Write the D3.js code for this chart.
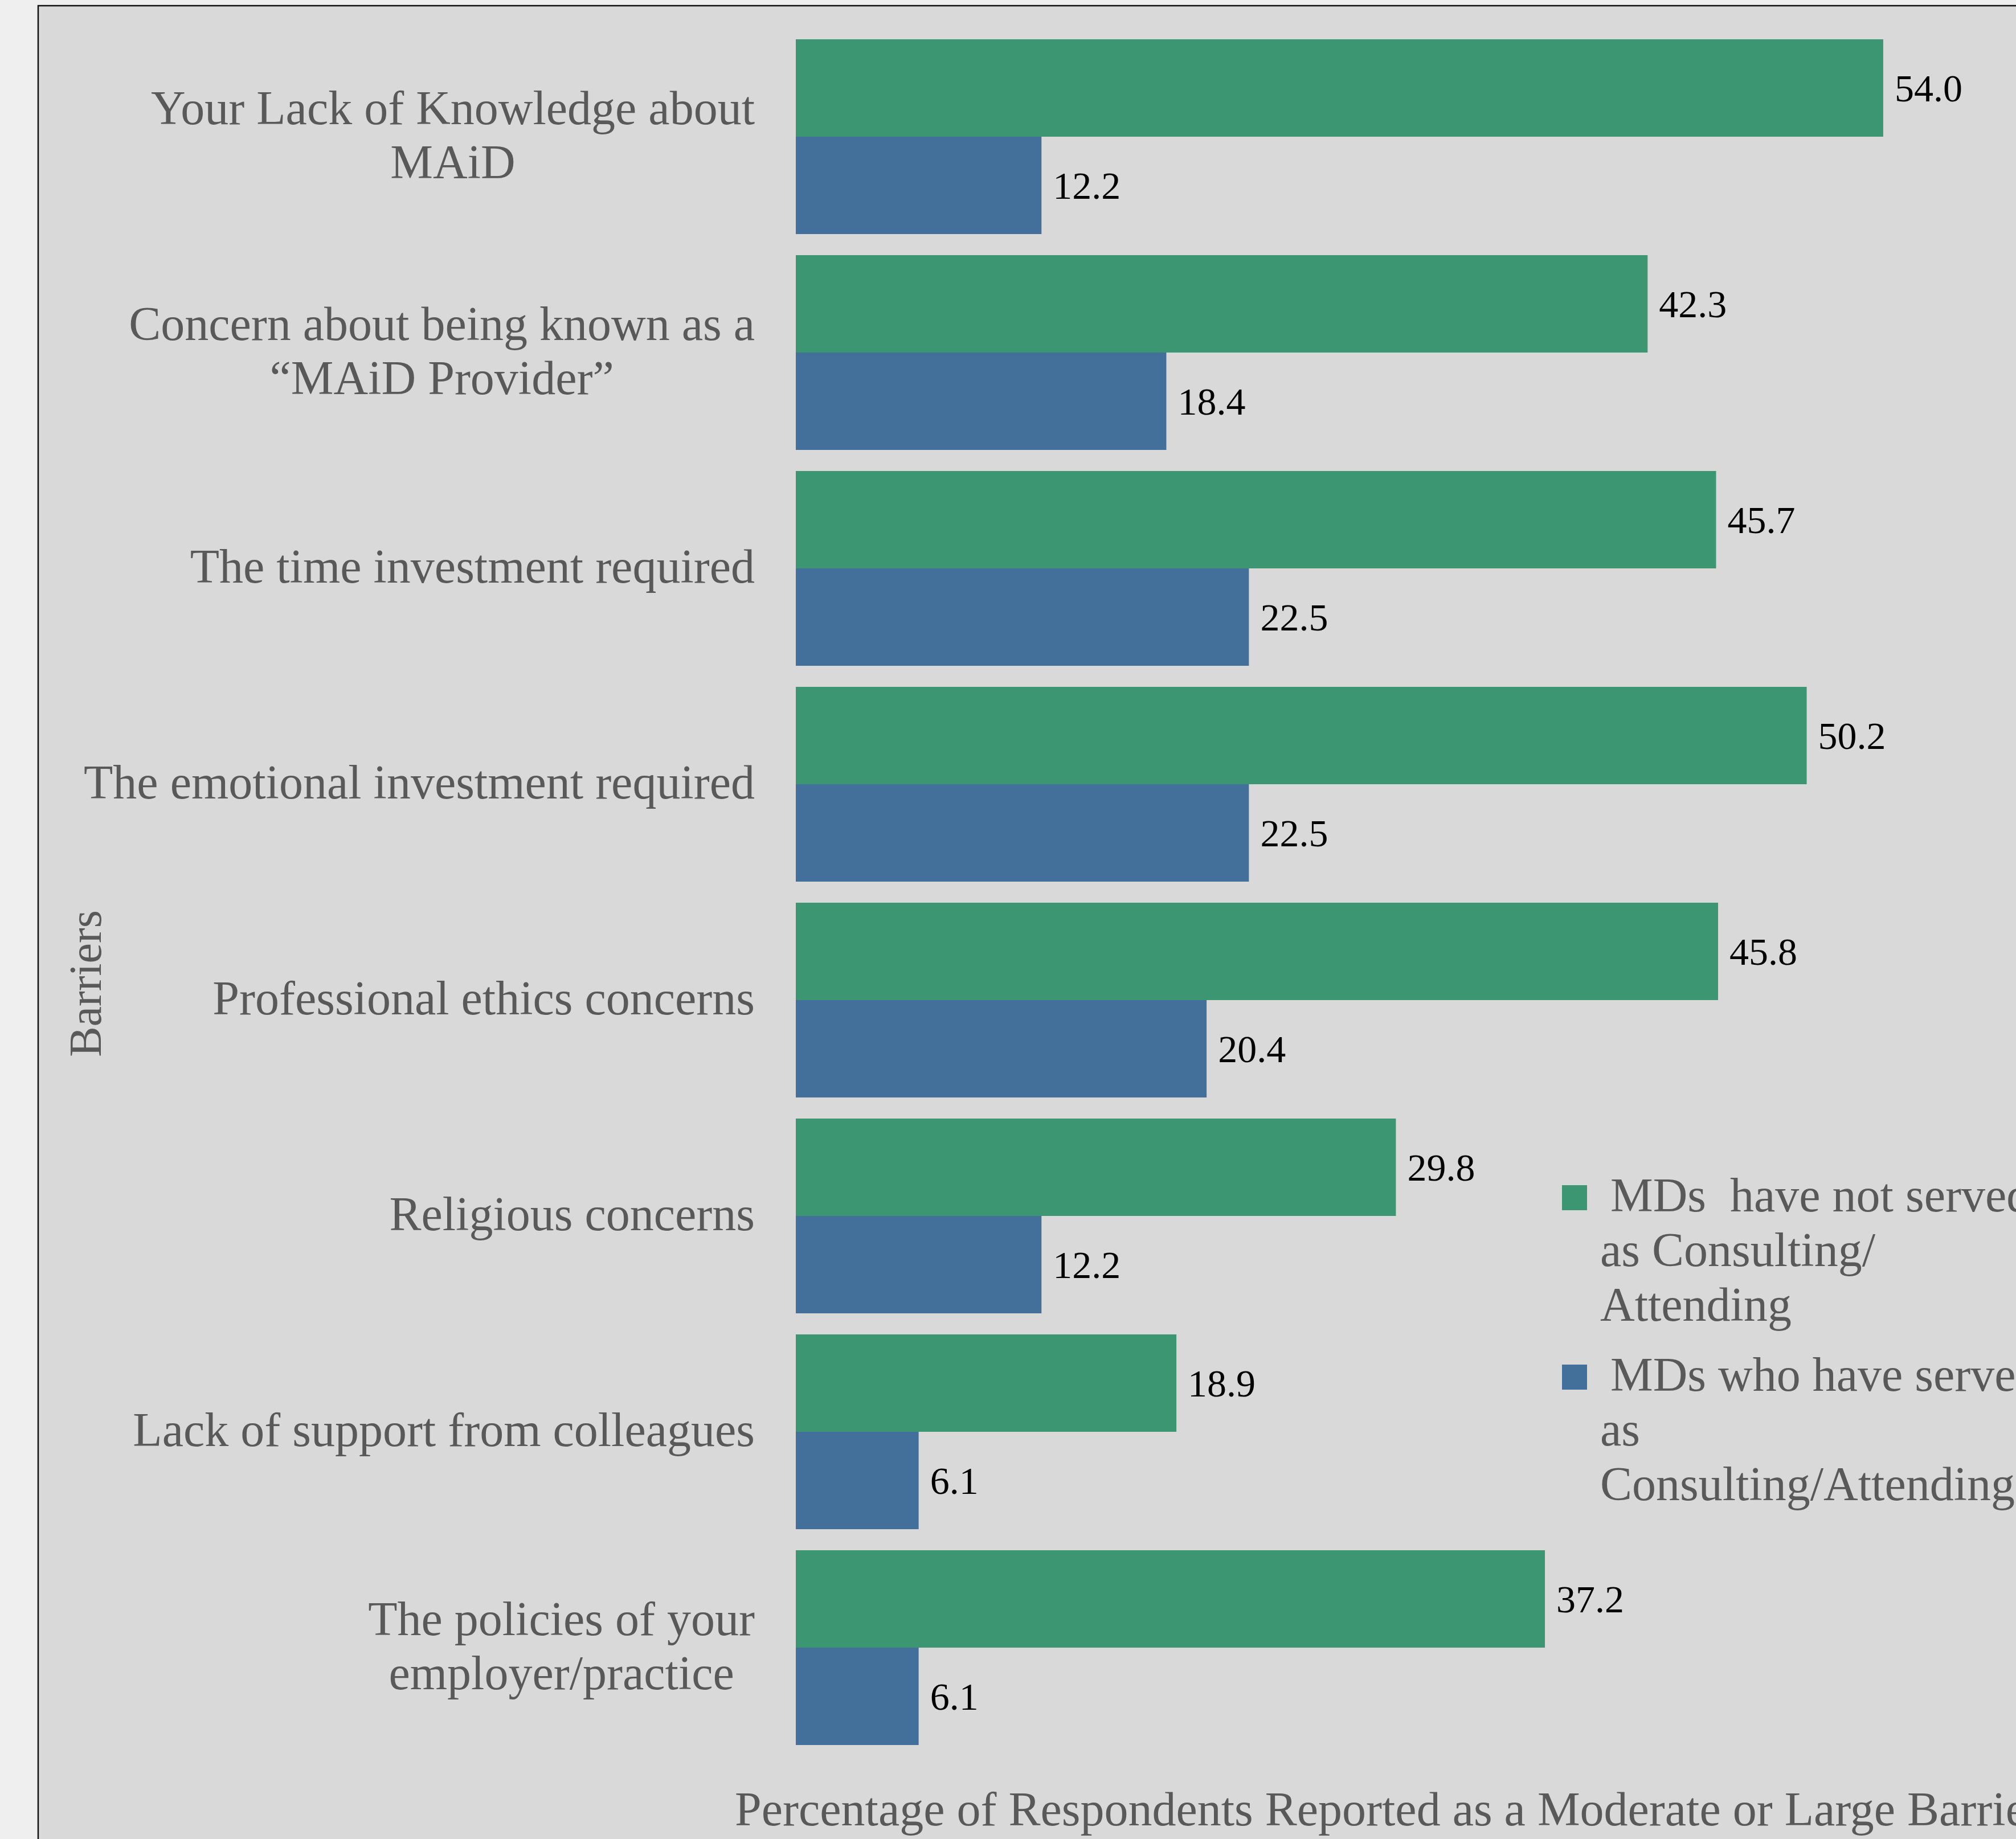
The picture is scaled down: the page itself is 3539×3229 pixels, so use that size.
<!DOCTYPE html>
<html>
<head>
<meta charset="utf-8">
<script src="https://cdn.jsdelivr.net/npm/d3@7"></script>
<style>
  body { margin: 0; background: #efefef; overflow: hidden; }
  text { font-family: "Liberation Serif", "DejaVu Serif", serif; white-space: pre; }
</style>
</head>
<body>
<div id="chart"></div>
<script>
// categories, top to bottom ("\n" marks the line breaks in the picture)
var categories = ["Your Lack of Knowledge about\nMAiD", "Concern about being known as a\n\u201cMAiD Provider\u201d",
    "The time investment required", "The emotional investment required", "Professional ethics concerns",
    "Religious concerns", "Lack of support from colleagues", "The policies of your\nemployer/practice"];
var notServed = [54.0, 42.3, 45.7, 50.2, 45.8, 29.8, 18.9, 37.2];
var haveServed = [12.2, 18.4, 22.5, 22.5, 20.4, 12.2, 6.1, 6.1];
var seriesNames = [["MDs  have not served", "as Consulting/", "Attending"],
                   ["MDs who have served", "as", "Consulting/Attending"]];
var xTitle = "Percentage of Respondents Reported as a Moderate or Large Barrier";
var yTitle = "Barriers";

function main() {
    var width = 3539, height = 3229;
    var colors = ["#3c9672", "#436f9b"];
    var grey = "#595959";

    var svg = d3.select("#chart").append("svg")
                .attr("width", width).attr("height", height);

    // plot area
    svg.append("rect").attr("x", 67).attr("y", 10)
        .attr("width", width).attr("height", height)
        .attr("fill", "#d9d9d9").attr("stroke", "#111").attr("stroke-width", 2.5);

    var x = d3.scaleLinear().domain([0, 60]).range([1397, 1397 + 60 * 35.35]);
    var y = d3.scaleBand().domain(d3.range(categories.length))
                .range([69, 3064]).paddingInner(37 / 379).paddingOuter(0);
    var y1 = d3.scaleBand().domain([0, 1]).range([0, y.bandwidth()]);

    var rows = categories.map(function(c, i) {
        return {cat: c, vals: [notServed[i], haveServed[i]], i: i};
    });

    var groups = svg.append("g").selectAll(".grp").data(rows).enter().append("g")
                    .attr("transform", function(d) { return "translate(0," + y(d.i) + ")"; });

    var bars = groups.selectAll(".bar").data(function(d) {
        return d.vals.map(function(v, k) { return {v: v, k: k}; });
    }).enter();
    bars.append("rect")
        .attr("x", x(0)).attr("y", function(d) { return y1(d.k); })
        .attr("width", function(d) { return x(d.v) - x(0); })
        .attr("height", y1.bandwidth())
        .attr("fill", function(d) { return colors[d.k]; });
    bars.append("text")
        .attr("x", function(d) { return x(d.v) + 20; })
        .attr("y", function(d) { return y1(d.k) + y1.bandwidth() / 2; })
        .attr("dy", "0.35em")
        .attr("font-size", 68).attr("fill", "#000")
        .text(function(d) { return d.v.toFixed(1); });

    // category axis, labels redrawn as centred multi-line blocks
    var yAxis = d3.axisLeft(d3.scaleBand().domain(categories).range(y.range())
                    .paddingInner(y.paddingInner()).paddingOuter(0))
                .tickSize(0).tickFormat("");
    var axisG = svg.append("g").attr("transform", "translate(1325,0)").call(yAxis);
    axisG.select(".domain").remove();

    var lh = 95, fs = 84;
    rows.forEach(function(d) {
        var lines = d.cat.split("\n");
        var cy = y(d.i) + y.bandwidth() / 2;
        var t = axisG.append("text").attr("font-size", fs).attr("fill", grey);
        var spans = lines.map(function(l, j) {
            return t.append("tspan").attr("y", cy - (lines.length - 1) * lh / 2 + j * lh + 0.3 * fs).text(l);
        });
        var maxW = d3.max(spans, function(s) { return s.node().getComputedTextLength(); });
        spans.forEach(function(s) {
            s.attr("x", -maxW / 2).attr("text-anchor", "middle");
        });
    });

    // axis titles
    svg.append("text").attr("x", 1290).attr("y", 3205)
        .attr("font-size", fs).attr("fill", grey).text(xTitle);
    svg.append("text").attr("transform", "translate(177,1727) rotate(-90)")
        .attr("text-anchor", "middle").attr("font-size", 80).attr("fill", grey).text(yTitle);

    // legend
    var legend = svg.append("g").selectAll(".legend").data(seriesNames).enter().append("g")
                    .attr("transform", function(d, i) { return "translate(2742," + (2081 + i * 315) + ")"; });
    legend.append("rect").attr("width", 44).attr("height", 44)
        .attr("fill", function(d, i) { return colors[i]; });
    legend.append("text").attr("font-size", 84).attr("fill", grey)
        .each(function(d) {
            var t = d3.select(this);
            d.forEach(function(l, j) {
                t.append("tspan").attr("x", j == 0 ? 85 : 67).attr("y", 46 + j * 96).text(l);
            });
        });
}
main();
</script>
</body>
</html>
